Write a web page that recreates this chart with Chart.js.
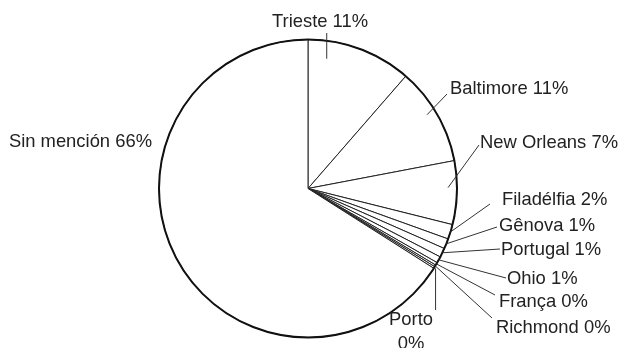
<!DOCTYPE html>
<html>
<head>
<meta charset="utf-8">
<script src="https://cdn.jsdelivr.net/npm/chart.js@4/dist/chart.umd.min.js"></script>
<style>
  html, body { margin: 0; padding: 0; background: #fff; }
  #wrap { width: 620px; height: 348px; position: relative; }
</style>
</head>
<body>
<div id="wrap"><canvas id="c" width="620" height="348"></canvas></div>
<script>
// Destinations, clockwise from 12 o'clock, with their shares (%)
const places = ['Trieste', 'Baltimore', 'New Orleans', 'Filadélfia', 'Gênova', 'Portugal', 'Ohio', 'França', 'Richmond', 'Porto', 'Sin mención'];
const shares = [11.4, 10.6, 6.9, 1.6, 1.1, 1.0, 0.7, 0.3, 0.2, 0.2, 66.0];

// Label placement: text baseline point, alignment, and leader line
// (leader starts inside/at the slice: frac = position along the slice, rf = fraction of radius)
const labelLayout = [
  { x: 320, y: 27, align: 'center', leader: { frac: 0.2, rf: 0.88, ex: null, ey: 33 } },
  { x: 450, y: 94, align: 'left', leader: { frac: 0.45, rf: 0.94, ex: 447, ey: 94 } },
  { x: 480, y: 148, align: 'left', leader: { frac: 0.42, rf: 0.94, ex: 479, ey: 145 } },
  { x: 502, y: 205, align: 'left', leader: { frac: 0.5, rf: 1.0, ex: 490, ey: 204 } },
  { x: 499, y: 231, align: 'left', leader: { frac: 0.5, rf: 1.0, ex: 497, ey: 227 } },
  { x: 501, y: 255, align: 'left', leader: { frac: 0.5, rf: 1.0, ex: 500, ey: 249 } },
  { x: 507, y: 284, align: 'left', leader: { frac: 0.5, rf: 1.0, ex: 506, ey: 278 } },
  { x: 499, y: 307, align: 'left', leader: { frac: 0.5, rf: 1.0, ex: 495, ey: 295 } },
  { x: 496, y: 333, align: 'left', leader: { frac: 0.5, rf: 1.0, ex: 492, ey: 318 } },
  { x: 411, y: 325, align: 'center', twoLines: true, leader: { frac: 0.5, rf: 1.01, ex: null, ey: 310 } },
  { x: 152, y: 147, align: 'right', leader: null }
];

const labelText = i => places[i] + ' ' + Math.round(shares[i]) + '%';

const pieLabels = {
  id: 'pieLabels',
  afterDatasetsDraw(chart) {
    const ctx = chart.ctx;
    const arcs = chart.getDatasetMeta(0).data;
    const cx = arcs[0].x, cy = arcs[0].y, R = arcs[0].outerRadius;

    // heavier outer rim
    ctx.save();
    ctx.beginPath();
    ctx.arc(cx, cy, R, 0, Math.PI * 2);
    ctx.lineWidth = 2;
    ctx.strokeStyle = '#111';
    ctx.stroke();
    ctx.restore();

    ctx.save();
    ctx.font = '18.4px "Liberation Sans", Arial, sans-serif';
    ctx.fillStyle = '#222';
    ctx.textBaseline = 'alphabetic';
    labelLayout.forEach((lay, i) => {
      const arc = arcs[i];
      if (lay.leader) {
        const L = lay.leader;
        const a = arc.startAngle + L.frac * (arc.endAngle - arc.startAngle);
        const sx = cx + Math.cos(a) * R * L.rf;
        const sy = cy + Math.sin(a) * R * L.rf;
        const ex = L.ex === null ? sx : L.ex;
        ctx.beginPath();
        ctx.moveTo(sx, sy);
        ctx.lineTo(ex, L.ey);
        ctx.lineWidth = 1;
        ctx.strokeStyle = '#333';
        ctx.stroke();
      }
      ctx.textAlign = lay.align;
      if (lay.twoLines) {
        ctx.fillText(places[i], lay.x, lay.y);
        ctx.fillText(Math.round(shares[i]) + '%', lay.x, lay.y + 24);
      } else {
        ctx.fillText(labelText(i), lay.x, lay.y);
      }
    });
    ctx.restore();
  }
};

new Chart(document.getElementById('c'), {
  type: 'pie',
  data: {
    labels: places,
    datasets: [{
      data: shares,
      backgroundColor: '#ffffff',
      borderColor: '#222',
      borderWidth: 1,
      radius: 149
    }]
  },
  options: {
    responsive: false,
    animation: false,
    events: [],
    layout: { padding: { top: 40, bottom: 11, left: 0, right: 4 } },
    plugins: {
      legend: { display: false },
      tooltip: { enabled: false }
    }
  },
  plugins: [pieLabels]
});
</script>
</body>
</html>
